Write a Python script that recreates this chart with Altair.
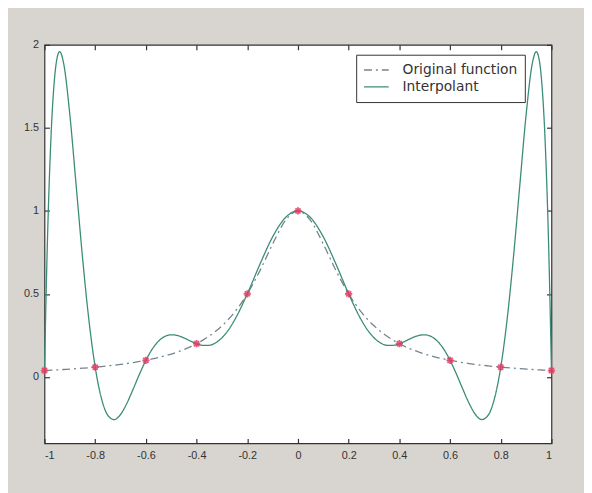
import altair as alt
import pandas as pd

# sample positions (x) for both curves
x_vals = [-1.0, -0.99, -0.975, -0.96, -0.95, -0.94, -0.925, -0.9, -0.875, -0.85, -0.825, -0.8,
          -0.775, -0.75, -0.725, -0.7, -0.675, -0.65, -0.625, -0.6, -0.575, -0.55, -0.525, -0.5,
          -0.475, -0.45, -0.425, -0.4, -0.375, -0.35, -0.325, -0.3, -0.275, -0.25, -0.2, -0.15,
          -0.1, -0.05, 0.0, 0.05, 0.1, 0.15, 0.2, 0.25, 0.275, 0.3, 0.325, 0.35, 0.375, 0.4,
          0.425, 0.45, 0.475, 0.5, 0.525, 0.55, 0.575, 0.6, 0.625, 0.65, 0.675, 0.7, 0.725,
          0.75, 0.775, 0.8, 0.825, 0.85, 0.875, 0.9, 0.925, 0.94, 0.95, 0.96, 0.975, 0.99, 1.0]

interp_vals = [0.0385, 0.7261, 1.4231, 1.8044, 1.9236, 1.9590, 1.8925, 1.5787, 1.1517, 0.7195,
               0.3450, 0.0588, -0.1312, -0.2315, -0.2569, -0.2262, -0.1588, -0.0726, 0.0175, 0.1,
               0.1674, 0.2156, 0.2438, 0.2538, 0.2492, 0.2350, 0.2167, 0.2, 0.1899, 0.1906, 0.2052,
               0.2354, 0.2815, 0.3426, 0.5, 0.6790, 0.8434, 0.9586, 1.0, 0.9586, 0.8434, 0.6790,
               0.5, 0.3426, 0.2815, 0.2354, 0.2052, 0.1906, 0.1899, 0.2, 0.2167, 0.2350, 0.2492,
               0.2538, 0.2438, 0.2156, 0.1674, 0.1, 0.0175, -0.0726, -0.1588, -0.2262, -0.2569,
               -0.2315, -0.1312, 0.0588, 0.3450, 0.7195, 1.1517, 1.5787, 1.8925, 1.9590, 1.9236,
               1.8044, 1.4231, 0.7261, 0.0385]

orig_vals = [0.0385, 0.0392, 0.0404, 0.0416, 0.0424, 0.0433, 0.0447, 0.0471, 0.0497, 0.0525,
             0.0555, 0.0588, 0.0624, 0.0664, 0.0707, 0.0755, 0.0807, 0.0865, 0.0929, 0.1,
             0.1079, 0.1168, 0.1267, 0.1379, 0.1506, 0.1649, 0.1813, 0.2, 0.2215, 0.2462, 0.2747,
             0.3077, 0.3459, 0.3902, 0.5, 0.64, 0.8, 0.9412, 1.0, 0.9412, 0.8, 0.64, 0.5, 0.3902,
             0.3459, 0.3077, 0.2747, 0.2462, 0.2215, 0.2, 0.1813, 0.1649, 0.1506, 0.1379, 0.1267,
             0.1168, 0.1079, 0.1, 0.0929, 0.0865, 0.0807, 0.0755, 0.0707, 0.0664, 0.0624, 0.0588,
             0.0555, 0.0525, 0.0497, 0.0471, 0.0447, 0.0433, 0.0424, 0.0416, 0.0404, 0.0392, 0.0385]

node_x = [-1.0, -0.8, -0.6, -0.4, -0.2, 0.0, 0.2, 0.4, 0.6, 0.8, 1.0]
node_y = [0.0385, 0.0588, 0.1, 0.2, 0.5, 1.0, 0.5, 0.2, 0.1, 0.0588, 0.0385]

x_ticks = [-1.0, -0.8, -0.6, -0.4, -0.2, 0.0, 0.2, 0.4, 0.6, 0.8, 1.0]
y_ticks = [0.0, 0.5, 1.0, 1.5, 2.0]

series = ["Original function", "Interpolant"]

W, H = 514, 404

curves = pd.DataFrame(
    {"x": x_vals * 2,
     "y": orig_vals + interp_vals,
     "series": [series[0]] * len(x_vals) + [series[1]] * len(x_vals)}
)
nodes = pd.DataFrame({"x": node_x, "y": node_y})

xscale = alt.Scale(domain=[-1, 1], nice=False, zero=False)
yscale = alt.Scale(domain=[-0.4, 2], nice=False, zero=False)

TICK = 5
tick_col = "#333333"
label_expr = "replace(datum.label, '\u2212', '-')"
common = dict(ticks=True, tickSize=TICK, tickColor=tick_col, tickWidth=1.2, domain=False,
              grid=False, title=None, offset=-TICK, format="~g")

xaxis = alt.Axis(values=x_ticks, orient="bottom", labelPadding=6, labelFontSize=11,
                 labelFont="Liberation Sans", labelColor="#333333", labelExpr=label_expr,
                 **common)
yaxis = alt.Axis(values=y_ticks, orient="left", labelPadding=6, labelFontSize=11,
                 labelFont="Liberation Sans", labelColor="#333333", **common)
xaxis_top = alt.Axis(values=x_ticks, orient="top", labels=False, **common)
yaxis_right = alt.Axis(values=y_ticks, orient="right", labels=False, **common)

lines = alt.Chart(curves).mark_line(interpolate="monotone", strokeWidth=1.3).encode(
    x=alt.X("x:Q", scale=xscale, axis=xaxis),
    y=alt.Y("y:Q", scale=yscale, axis=yaxis),
    color=alt.Color("series:N",
                    scale=alt.Scale(domain=series, range=["#75838f", "#3a8c76"]),
                    sort=series,
                    legend=alt.Legend(title=None, orient="none", legendX=316, legendY=10,
                                      symbolType="stroke", symbolSize=625, symbolStrokeWidth=1.3,
                                      clipHeight=17,
                                      labelFontSize=14, labelFont="DejaVu Sans",
                                      labelColor="#333333", strokeColor="#333333",
                                      fillColor="white", padding=7, rowPadding=0,
                                      labelOffset=13)),
    strokeDash=alt.StrokeDash("series:N",
                              scale=alt.Scale(domain=series, range=[[8, 4, 2, 4], [1, 0]]),
                              sort=series, legend=None),
    detail="series:N",
)

asterisk = "M-1,0L1,0M0,-1L0,1M-0.7,-0.7L0.7,0.7M-0.7,0.7L0.7,-0.7"
marks = alt.Chart(nodes).mark_point(shape=asterisk, filled=False, size=55,
                                    strokeWidth=1.8, color="#e23a62", opacity=0.85).encode(
    x=alt.X("x:Q", scale=xscale, axis=xaxis_top),
    y=alt.Y("y:Q", scale=yscale, axis=yaxis_right),
)

chart = alt.layer(lines, marks).resolve_axis(
    x="independent", y="independent"
).properties(
    width=W, height=H,
    autosize=alt.AutoSizeParams(type="none"),
    padding={"left": 37, "top": 34, "right": 33, "bottom": 47},
    background="#d8d5d1",
).configure_view(
    stroke="#333333", strokeWidth=1.2, fill="white"
)

chart.save("out.html", embed_options={"renderer": "svg", "actions": False})
